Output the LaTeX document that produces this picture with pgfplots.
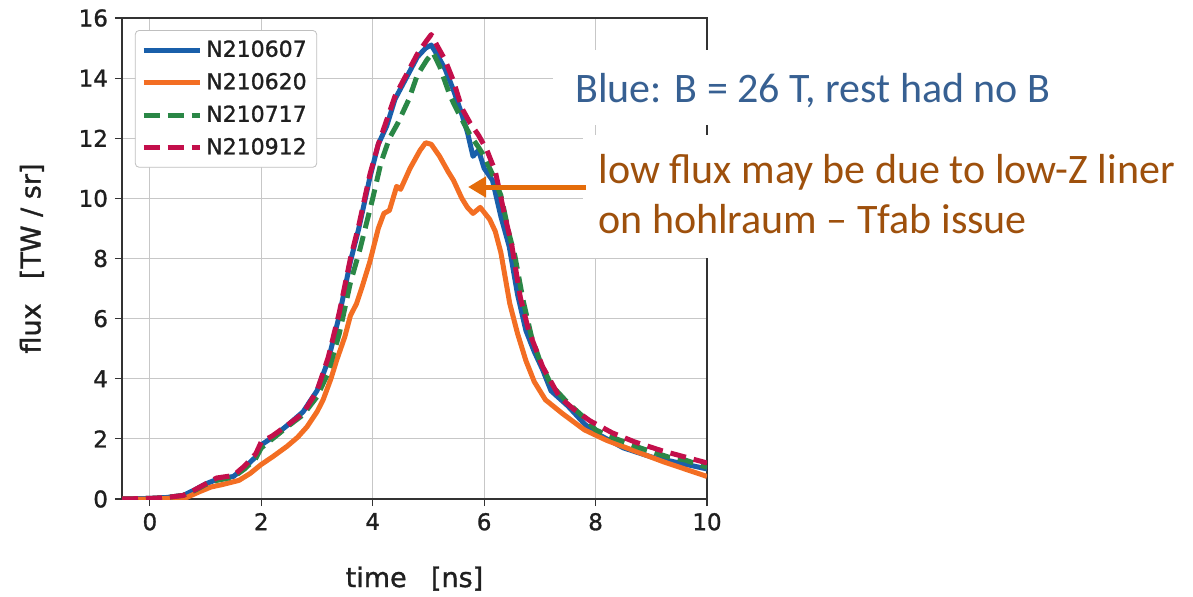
\documentclass[border=0pt]{standalone}
\usepackage{fontspec}
\setmainfont{DejaVu Sans}[FakeBold=1.2]
\newfontfamily\calib{Carlito}
\usepackage{pgfplots}
\pgfplotsset{compat=1.18}
\usetikzlibrary{arrows.meta}
\definecolor{cblue}{RGB}{25,95,170}
\definecolor{corange}{RGB}{243,110,35}
\definecolor{cgreen}{RGB}{42,135,70}
\definecolor{cred}{RGB}{195,15,75}
\definecolor{annblue}{RGB}{55,96,146}
\definecolor{annbrown}{RGB}{158,80,12}
\definecolor{arrorange}{RGB}{228,108,10}
\begin{document}
\begin{tikzpicture}
\useasboundingbox (0pt,0pt) rectangle (596.5pt,298pt);
\begin{axis}[
  at={(61pt,48.5pt)}, anchor=south west,
  scale only axis, width=292.5pt, height=240.5pt,
  xmin=-0.5, xmax=10, ymin=0, ymax=16,
  xtick={0,2,4,6,8,10}, ytick={0,2,4,6,8,10,12,14,16},
  grid=major, grid style={color=black!22, line width=0.5pt},
  axis line style={color=black!80, line width=0.75pt},
  tick style={color=black!80, line width=0.6pt},
  tick align=outside, tick pos=left, major tick length=3.5pt,
  ticklabel style={font=\fontsize{11.5}{13}\selectfont, text=black!88},
  /pgf/number format/assume math mode=true,
  xlabel={time\hspace{0.9em}[ns]}, ylabel={flux\hspace{0.9em}[TW / sr]},
  label style={font=\fontsize{13.5}{15}\selectfont, text=black!88},
  xlabel style={at={(axis description cs:0.5,-0.183)}, anchor=base},
  ylabel style={at={(axis description cs:-0.154,0.5)}, anchor=center},
  legend style={at={(0.022,0.975)}, anchor=north west, draw=black!25,
    rounded corners=2pt, fill=white, font=\fontsize{11}{13}\selectfont,
    text=black!88, row sep=2.6pt, inner sep=3pt},
  legend cell align=left,
  legend image code/.code={\path (0pt,0pt) -- (28pt,0pt);\draw[#1] (0pt,0pt) -- (25pt,0pt);},
  every axis plot/.append style={line width=2.5pt, line join=round},
]
\addplot[color=cblue] coordinates {
(-0.5,0) (0,0.02) (0.3,0.05) (0.6,0.12) (0.8,0.3) (1.0,0.5) (1.2,0.65) (1.5,0.75)
(1.7,1.05) (1.9,1.4) (2.0,1.8) (2.2,2.05) (2.5,2.5) (2.75,2.9) (3.0,3.6) (3.2,4.6)
(3.4,6.1) (3.6,7.9) (3.75,9.0) (3.95,10.7) (4.1,11.8) (4.25,12.4) (4.4,13.3) (4.6,14.0)
(4.8,14.7) (4.95,15.0) (5.05,15.1) (5.15,14.8) (5.3,14.3) (5.45,13.6) (5.6,12.8)
(5.7,12.2) (5.8,11.4) (5.9,11.6) (6.0,11.0) (6.15,10.6) (6.3,9.4) (6.45,8.4) (6.6,6.8)
(6.75,5.6) (6.9,4.9) (7.05,4.3) (7.2,3.6) (7.5,3.1) (7.8,2.5) (8.0,2.2) (8.5,1.7)
(9.0,1.4) (9.5,1.2) (10.0,1.0)};
\addlegendentry{N210607}
\addplot[color=corange] coordinates {
(-0.5,0) (0,0.0) (0.3,0.02) (0.66,0.05) (0.9,0.25) (1.1,0.4) (1.3,0.48) (1.6,0.62)
(1.8,0.85) (2.0,1.15) (2.2,1.4) (2.46,1.75) (2.65,2.05) (2.82,2.4) (3.0,2.9) (3.11,3.3)
(3.25,4.0) (3.35,4.6) (3.5,5.4) (3.6,6.1) (3.71,6.5) (3.8,7.0) (3.95,7.9) (4.1,9.0)
(4.2,9.5) (4.3,9.6) (4.43,10.4) (4.5,10.3) (4.67,11.0) (4.85,11.6) (4.95,11.85)
(5.05,11.8) (5.2,11.4) (5.35,10.9) (5.45,10.6) (5.6,10.0) (5.7,9.7) (5.8,9.5) (5.93,9.7)
(6.1,9.3) (6.2,8.9) (6.3,8.2) (6.46,6.5) (6.6,5.5) (6.75,4.6) (6.9,3.9) (7.1,3.3)
(7.4,2.85) (7.8,2.3) (8.2,1.95) (8.7,1.6) (9.2,1.25) (9.6,1.0) (10,0.75)};
\addlegendentry{N210620}
\addplot[color=cgreen, dash pattern=on 8pt off 4pt] coordinates {
(-0.5,0) (0,0.02) (0.3,0.05) (0.6,0.12) (0.8,0.28) (1.0,0.48) (1.2,0.62) (1.5,0.73)
(1.7,1.0) (1.9,1.35) (2.0,1.7) (2.2,2.0) (2.5,2.45) (2.75,2.8) (3.0,3.4) (3.2,4.2)
(3.4,5.5) (3.6,7.2) (3.77,8.3) (4.0,10.0) (4.15,11.2) (4.3,12.0) (4.45,12.5) (4.65,13.3)
(4.8,14.1) (4.97,14.6) (5.08,14.85) (5.2,14.4) (5.39,13.4) (5.55,12.8) (5.75,12.1)
(5.9,11.7) (6.0,11.4) (6.15,10.8) (6.3,10.1) (6.45,8.8) (6.55,8.1) (6.7,6.6) (6.85,5.4)
(7.0,4.6) (7.2,3.8) (7.5,3.2) (7.8,2.7) (8.0,2.3) (8.3,2.05) (8.8,1.7) (9.3,1.4)
(9.6,1.3) (10,1.05)};
\addlegendentry{N210717}
\addplot[color=cred, dash pattern=on 8pt off 4pt] coordinates {
(-0.5,0) (0,0.02) (0.3,0.05) (0.6,0.12) (0.8,0.3) (1.0,0.5) (1.2,0.7) (1.5,0.78)
(1.7,1.1) (1.9,1.5) (2.0,1.9) (2.2,2.1) (2.5,2.5) (2.75,2.85) (3.0,3.6) (3.2,4.7)
(3.4,6.2) (3.6,8.0) (3.75,9.1) (3.95,10.8) (4.1,11.8) (4.25,12.6) (4.4,13.4) (4.6,14.1)
(4.8,14.8) (4.95,15.2) (5.05,15.45) (5.15,15.1) (5.3,14.6) (5.45,13.9) (5.6,13.0)
(5.75,12.5) (5.9,12.1) (6.05,11.6) (6.2,10.9) (6.35,9.6) (6.5,8.4) (6.65,6.7) (6.8,5.6)
(7.05,4.4) (7.35,3.4) (7.6,3.0) (7.9,2.6) (8.3,2.2) (8.7,1.9) (9.2,1.6) (9.6,1.4) (10,1.2)};
\addlegendentry{N210912}
\end{axis}
\fill[white] (276.5pt,273pt) rectangle (596.5pt,235.5pt);
\node[anchor=base west, inner sep=0, text=annblue, font=\calib\fontsize{21}{25}\selectfont] at (287.5pt,247pt) {Blue: B = 26 T, rest had no B};
\fill[white] (291.5pt,230.5pt) rectangle (596.5pt,169pt);
\node[anchor=base west, inner sep=0, text=annbrown, font=\calib\fontsize{21}{25}\selectfont] at (299pt,206.5pt) {low flux may be due to low-Z liner};
\node[anchor=base west, inner sep=0, text=annbrown, font=\calib\fontsize{21}{25}\selectfont] at (299pt,181.5pt) {on hohlraum – Tfab issue};
\draw[line width=2.5pt, color=arrorange, -{Triangle[length=9pt,width=10pt]}] (293pt,204.5pt) -- (234pt,204.5pt);
\end{tikzpicture}
\end{document}
